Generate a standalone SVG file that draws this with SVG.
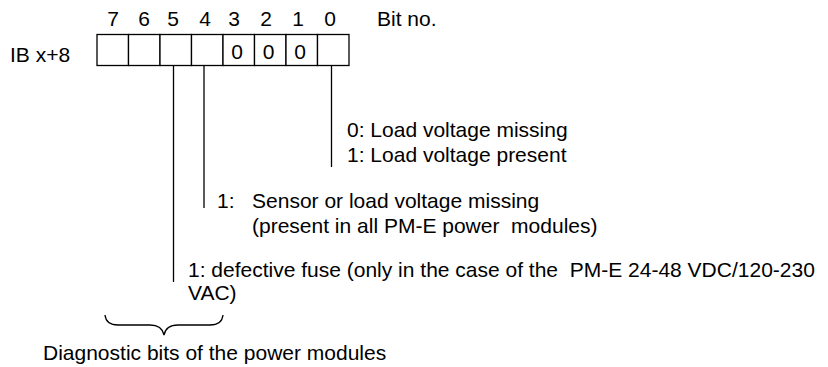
<svg xmlns="http://www.w3.org/2000/svg" width="828" height="367" viewBox="0 0 828 367">
<style>
text{font-family:"Liberation Sans",Arial,sans-serif;font-size:21px;fill:#000;white-space:pre}
.c{fill:#fff;stroke:#000;stroke-width:1.3}
.ln{stroke:#000;stroke-width:1.3;fill:none}
.m{text-anchor:middle}
</style>
<rect width="828" height="367" fill="#fff"/>
<g id="bitnumbers">
<text class="m" x="113" y="26">7</text>
<text class="m" x="144" y="26">6</text>
<text class="m" x="173" y="26">5</text>
<text class="m" x="205" y="26">4</text>
<text class="m" x="234" y="26">3</text>
<text class="m" x="266" y="26">2</text>
<text class="m" x="298" y="26">1</text>
<text class="m" x="330" y="26">0</text>
<text x="377" y="26">Bit no.</text>
</g>
<g id="register">
<text x="10" y="62">IB x+8</text>
<rect class="c" x="97" y="34.5" width="31.5" height="31"/>
<rect class="c" x="128.5" y="34.5" width="31.5" height="31"/>
<rect class="c" x="160" y="34.5" width="31.5" height="31"/>
<rect class="c" x="191.5" y="34.5" width="31.5" height="31"/>
<rect class="c" x="223" y="34.5" width="31.5" height="31"/>
<rect class="c" x="254.5" y="34.5" width="31.5" height="31"/>
<rect class="c" x="286" y="34.5" width="31.5" height="31"/>
<rect class="c" x="317.5" y="34.5" width="31.5" height="31"/>
<text class="m" x="237" y="59">0</text>
<text class="m" x="268.5" y="59">0</text>
<text class="m" x="300" y="59">0</text>
</g>
<g id="connectors">
<line class="ln" x1="331.5" y1="65.5" x2="331.5" y2="167"/>
<line class="ln" x1="204" y1="65.5" x2="204" y2="208"/>
<line class="ln" x1="173.5" y1="65.5" x2="173.5" y2="282"/>
<path class="ln" d="M105 315 Q106 325 118 325 L150 325 Q162 325 164 335 Q166 325 178 325 L210 325 Q222 325 223 315"/>
</g>
<g id="bit0-text">
<text x="347" y="137">0: Load voltage missing</text>
<text x="347" y="162">1: Load voltage present</text>
</g>
<g id="bit4-text">
<text x="217" y="208">1:   Sensor or load voltage missing</text>
<text x="252" y="233">(present in all PM-E power  modules)</text>
</g>
<g id="bit5-text">
<text x="188" y="277">1: defective fuse (only in the case of the  PM-E 24-48 VDC/120-230</text>
<text x="188" y="300">VAC)</text>
</g>
<g id="brace-label">
<text x="43" y="360">Diagnostic bits of the power modules</text>
</g>
</svg>
